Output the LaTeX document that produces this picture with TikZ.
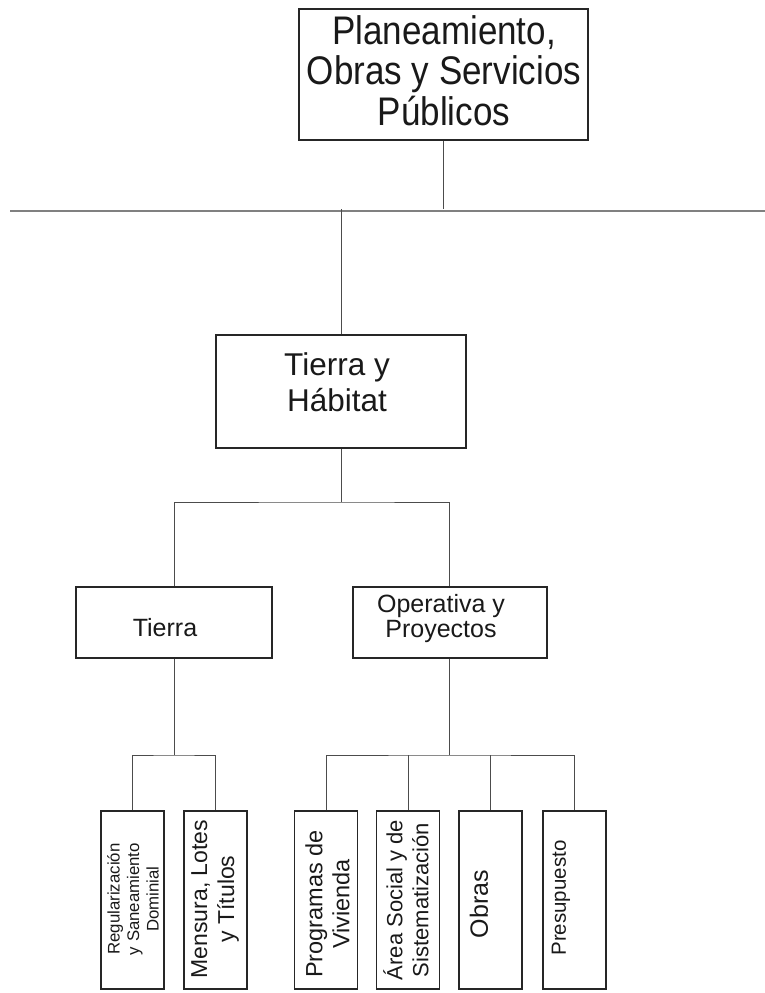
\documentclass[tikz,border=0pt]{standalone}
\usepackage{fontspec}
\usepackage{graphicx}
\setmainfont{Liberation Sans}
\newcommand\fsz[2]{\fontsize{#1}{#2}\selectfont}
\begin{document}
\begin{tikzpicture}[x=1pt,y=-1pt,
  box/.style={draw=black!85, line width=1.1pt, inner sep=0pt, fill=none},
  lbl/.style={inner sep=0pt, align=center, text=black!90},
  vlbl/.style={lbl, rotate=90},
  conn/.style={draw=black!70, line width=1pt},
  bus/.style={draw=black!50, line width=2.6pt}]
\useasboundingbox (0,0) rectangle (765,993);
% boxes
\node[box, minimum width=289pt, minimum height=131pt] (top) at (443.5,74.5) {};
\node[box, minimum width=250pt, minimum height=113pt] (th) at (341,391.5) {};
\node[box, minimum width=196pt, minimum height=71pt] (tierra) at (174,622.5) {};
\node[box, minimum width=194pt, minimum height=71pt] (oper) at (450,622.5) {};
\foreach \n/\x in {b1/132.5,b2/215.5,b3/326,b4/408,b5/490.5,b6/574.5}
  \node[box, minimum width=63pt, minimum height=178pt] (\n) at (\x,900) {};
% texts
\node[lbl] (ttop) at (444,76) {\scalebox{1}[1.14]{\fsz{35}{32.5}\begin{tabular}{@{}c@{}}Planeamiento,\\Obras y Servicios\\Públicos\end{tabular}}};
\node[lbl, font=\fsz{31.5}{36}] (tth) at (337,382) {Tierra y\\Hábitat};
\node[lbl, font=\fsz{25}{25}] (ttierra) at (165,628) {Tierra};
\node[lbl, font=\fsz{25}{25}] (toper) at (441,619) {Operativa y\\Proyectos};
\node[vlbl, font=\fsz{16.8}{19.5}] (tb1) at (133,899) {Regularización\\y Saneamiento\\Dominial};
\node[vlbl, font=\fsz{23}{27}] (tb2) at (215,899) {Mensura, Lotes\\y Títulos};
\node[vlbl, font=\fsz{23.5}{27}] (tb3) at (327.5,904) {Programas de\\Vivienda};
\node[vlbl, font=\fsz{22}{26}] (tb4) at (406,900) {Área Social y de\\Sistematización};
\node[vlbl, font=\fsz{25}{27}] (tb5) at (479,904) {Obras};
\node[vlbl, font=\fsz{20.5}{24}] (tb6) at (561,898) {Presupuesto};
% bus line
\coordinate (busL) at (10,211);
\coordinate (busR) at (765,211);
\draw[bus] (busL) -- (busR);
\draw[conn] (top.south) -- ([yshift=2pt]top.south |- busL);
\draw[conn] (th.north) -- ([yshift=2pt]th.north |- busL);
% level 2
\coordinate (j1) at (341,502);
\draw[conn] (th.south) -- (j1);
\draw[conn] (tierra.north) |- (j1) -| ([xshift=-1pt]oper.north);
% level 3 left
\coordinate (j2) at (174,755);
\draw[conn] (tierra.south) -- (j2);
\draw[conn] (b1.north) |- (j2) -| (b2.north);
% level 3 right
\coordinate (j3) at (449,755);
\draw[conn] ([xshift=-1pt]oper.south) -- (j3);
\draw[conn] (b3.north) |- (j3) -| (b6.north);
\draw[conn] (b4.north) -- (b4.north |- j3);
\draw[conn] (b5.north) -- (b5.north |- j3);
\end{tikzpicture}
\end{document}
